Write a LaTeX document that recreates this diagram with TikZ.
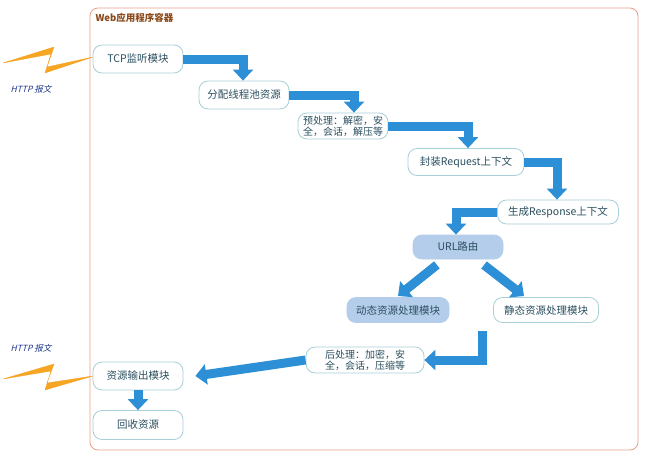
\documentclass[tikz,border=0pt]{standalone}
\usepackage{fontspec}
\setmainfont{Noto Sans CJK SC}
\newfontfamily\cjkit{Noto Sans CJK SC}[FakeSlant=0.25]
\usetikzlibrary{arrows.meta}
\definecolor{bord}{HTML}{A8CFD8}
\definecolor{txt}{HTML}{2A4F5F}
\definecolor{arr}{HTML}{2D8FD5}
\definecolor{fillb}{HTML}{B4CDEA}
\definecolor{cont}{HTML}{E8A088}
\definecolor{ttl}{HTML}{8B4A1C}
\definecolor{bolt}{HTML}{F5A623}
\begin{document}
\begin{tikzpicture}[x=1pt,y=-1pt,
  box/.style={draw=bord,line width=0.8pt,rounded corners=9pt,fill=white,text=txt,font=\fontsize{10.5}{12}\selectfont,inner sep=1pt,align=center},
  filledbox/.style={box,draw=fillb,fill=fillb},
  flow/.style={draw=arr,line width=9pt,-{Triangle[width=20pt,length=11pt]},line join=miter},
  bolts/.style={fill=bolt,draw=bolt!80!orange,line width=0.3pt},
  lbl/.style={text=txt!70!blue,font=\cjkit\fontsize{8.5}{10}\selectfont}]
\useasboundingbox (0,0) rectangle (651,458);
\fill[white] (0,0) rectangle (651,458);
\draw[cont,line width=0.8pt,rounded corners=8pt] (90,8) rectangle (638,450);
\node[anchor=west,text=ttl,font=\bfseries\fontsize{9.5}{11}\selectfont] (title) at (92,18) {Web应用程序容器};

\node[box,minimum width=90pt,minimum height=28pt] (tcp) at (138,59) {TCP监听模块};
\node[box,minimum width=90pt,minimum height=28pt] (fp) at (244,95) {分配线程池资源};
\node[box,minimum width=90pt,minimum height=26pt,font=\fontsize{10}{11}\selectfont] (pre) at (343,126) {预处理：解密，安\\全，会话，解压等};
\node[box,minimum width=116pt,minimum height=27pt] (req) at (466,162) {封装Request上下文};
\node[box,minimum width=121pt,minimum height=24pt] (resp) at (558,212) {生成Response上下文};
\node[filledbox,minimum width=90pt,minimum height=24pt] (url) at (458,247) {URL路由};
\node[filledbox,minimum width=102pt,minimum height=25pt] (dyn) at (398,310) {动态资源处理模块};
\node[box,minimum width=105pt,minimum height=25pt] (sta) at (546,310) {静态资源处理模块};
\node[box,minimum width=118pt,minimum height=26pt,font=\fontsize{10}{11}\selectfont] (post) at (365,360) {后处理：加密，安\\全，会话，压缩等};
\node[box,minimum width=90pt,minimum height=28pt] (out) at (138,376) {资源输出模块};
\node[box,minimum width=90pt,minimum height=29pt] (rec) at (138,425) {回收资源};

\coordinate (c1) at (243,59); \coordinate (c2) at (354,95); \coordinate (c3) at (468,126);
\coordinate (c4) at (557,162); \coordinate (c5) at (456,212);
\coordinate (s7) at (482,331); \coordinate (c7) at (482,360);

\draw[flow] (tcp.east) -- (c1) -- (fp.north -| c1);
\draw[flow] (fp.east) -- (c2) -- (pre.north -| c2);
\draw[flow] (pre.east) -- (c3) -- (req.north -| c3);
\draw[flow] (req.east) -- (c4) -- (resp.north -| c4);
\draw[flow] (resp.west) -- (c5) -- (url.north -| c5);
\draw[flow,shorten <=4pt] (url.south) ++(-18,3) coordinate (u1) -- (398,296);
\draw[flow] (484,265) -- (524,296);
\draw[flow] (s7) -- (c7) -- (post.east);
\draw[flow] (post.west) -- ([xshift=12pt]out.east);
\draw[flow] (out.south) -- (rec.north);

\fill[bolts] (3,63) -- (54,47) -- (47,67) -- (93,57) -- (45,73) -- (51,54) -- cycle;
\fill[bolts] (3,379) -- (54,364) -- (47,383) -- (93,376) -- (45,390) -- (51,371) -- cycle;
\node[lbl] (h1) at (31,89) {HTTP 报文};
\node[lbl] (h2) at (31,348) {HTTP 报文};
\end{tikzpicture}
\end{document}
